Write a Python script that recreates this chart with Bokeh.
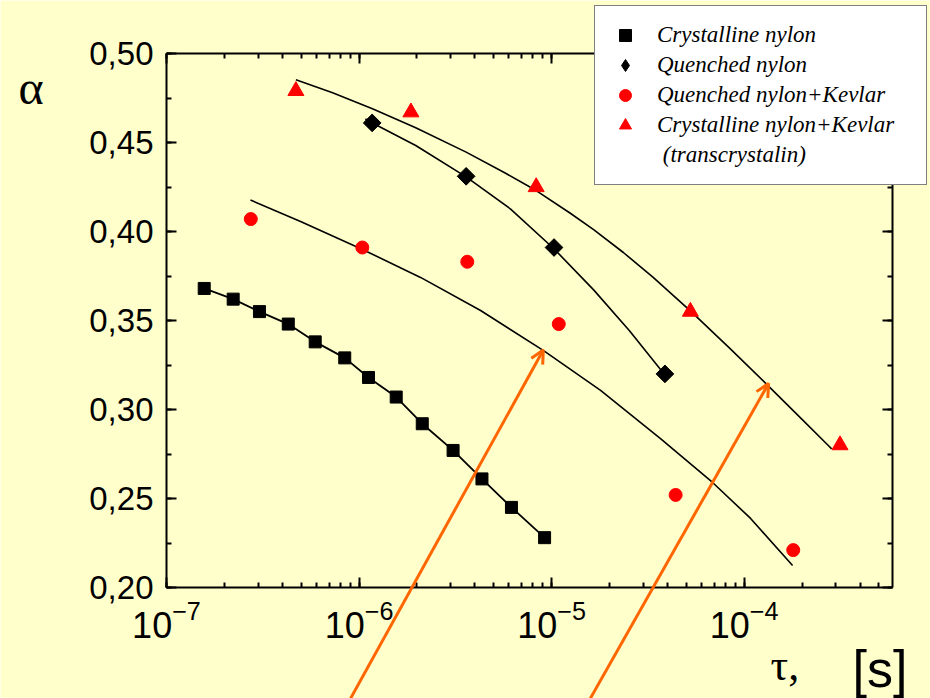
import numpy as np
from bokeh.plotting import figure
from bokeh.models import (Range1d, LinearAxis, LogAxis, LogTicker, SingleIntervalTicker,
                          CustomJSTickFormatter, Legend, LegendItem, Label, Arrow, OpenHead,
                          ColumnDataSource, CDSView, IndexFilter)
from bokeh.embed import file_html
from bokeh.resources import INLINE

# ---------------- data ----------------
cryst_tau = [1.57e-7, 2.22e-7, 3.04e-7, 4.29e-7, 5.92e-7, 8.43e-7, 1.12e-6,
             1.56e-6, 2.13e-6, 3.08e-6, 4.35e-6, 6.19e-6, 9.2e-6]
cryst_alpha = [0.368, 0.362, 0.355, 0.348, 0.338, 0.329, 0.318,
               0.307, 0.292, 0.277, 0.261, 0.245, 0.228]

quench_tau = [1.17e-6, 3.6e-6, 1.03e-5, 3.88e-5]
quench_alpha = [0.461, 0.431, 0.391, 0.320]

qkev_tau = [2.74e-7, 1.04e-6, 3.65e-6, 1.09e-5, 4.41e-5, 1.8e-4]
qkev_alpha = [0.407, 0.391, 0.383, 0.348, 0.252, 0.221]

ckev_tau = [4.7e-7, 1.86e-6, 8.32e-6, 5.26e-5, 3.15e-4]
ckev_alpha = [0.479, 0.467, 0.425, 0.355, 0.280]

# fitted curves
fit_ckev_tau = [4.70e-7, 7.29e-7, 1.174e-6, 1.97e-6, 3.60e-6, 5.71e-6, 8.32e-6, 1.246e-5,
                1.654e-5, 2.36e-5, 3.36e-5, 5.26e-5, 8.46e-5, 1.295e-4, 1.982e-4, 2.73e-4, 2.85e-4]
fit_ckev_alpha = [0.4853, 0.4779, 0.4690, 0.4583, 0.4446, 0.4330, 0.4230, 0.4104,
                  0.4010, 0.3882, 0.3744, 0.3554, 0.3342, 0.3147, 0.2949, 0.2799, 0.2779]

fit_quench_tau = [1.078e-6, 1.174e-6, 1.97e-6, 3.60e-6, 6.13e-6, 1.029e-5, 1.654e-5, 2.533e-5, 3.88e-5]
fit_quench_alpha = [0.4633, 0.4610, 0.4483, 0.4307, 0.4126, 0.3903, 0.3672, 0.3444, 0.3194]

fit_qkev_tau = [2.73e-7, 4.97e-7, 1.043e-6, 2.087e-6, 4.28e-6, 9.09e-6, 1.797e-5,
                3.68e-5, 6.86e-5, 1.081e-4, 1.786e-4]
fit_qkev_alpha = [0.4177, 0.4056, 0.3899, 0.3742, 0.3556, 0.3331, 0.3107,
                  0.2837, 0.2590, 0.2388, 0.2124]

# orange arrows: start (at the bottom edge of the picture) -> tip
arrow_tau_start = [9.04e-7, 1.59e-5]
arrow_alpha_start = [0.1377, 0.1377]
arrow_tau_end = [9.06e-6, 1.34e-4]
arrow_alpha_end = [0.3334, 0.3146]

legend_labels = ["Crystalline nylon", "Quenched nylon", "Quenched nylon+Kevlar",
                 "Crystalline nylon+Kevlar", " (transcrystalin)"]

# ---------------- layout constants ----------------
W, H = 930, 698
AX_LEFT, AX_RIGHT, AX_TOP, AX_BOTTOM = 166, 892, 53, 587   # pixel box of the axes frame
X_MIN, X_MAX = 1e-7, 5.9e-4
Y_MIN, Y_MAX = 0.20, 0.50

# whole canvas is the data frame; axes are drawn at fixed locations
dec_px = (AX_RIGHT - AX_LEFT) / (np.log10(X_MAX) - np.log10(X_MIN))
y_px = (AX_BOTTOM - AX_TOP) / (Y_MAX - Y_MIN)
xr = Range1d(10 ** (np.log10(X_MIN) - AX_LEFT / dec_px),
             10 ** (np.log10(X_MAX) + (W - AX_RIGHT) / dec_px))
yr = Range1d(Y_MIN - (H - AX_BOTTOM) / y_px, Y_MAX + AX_TOP / y_px)

BG = "#FFFFCC"
RED = "#FF0000"
ORANGE = "#FF6600"

p = figure(width=W, height=H, x_axis_type="log", x_range=xr, y_range=yr,
           output_backend="svg", toolbar_location=None,
           min_border_left=0, min_border_right=0, min_border_top=0, min_border_bottom=0)
p.background_fill_color = BG
p.border_fill_color = BG
p.outline_line_color = None
p.xgrid.visible = False
p.ygrid.visible = False

def style_axis(ax, show_labels):
    ax.axis_line_width = 2
    ax.axis_line_color = "black"
    ax.major_tick_in = 10
    ax.major_tick_out = 0
    ax.minor_tick_in = 5
    ax.minor_tick_out = 0
    ax.major_tick_line_width = 2
    ax.minor_tick_line_width = 2
    ax.major_tick_line_color = "black"
    ax.minor_tick_line_color = "black"
    if not show_labels:
        ax.major_label_text_font_size = "0px"
        ax.major_label_text_alpha = 0

yfmt = CustomJSTickFormatter(code="return tick.toFixed(2).replace('.', ',');")

# bottom axis
xax = p.xaxis[0]
xax.ticker = LogTicker(num_minor_ticks=10)
xax.bounds = (X_MIN, X_MAX)
xax.fixed_location = Y_MIN
style_axis(xax, True)
xax.major_label_text_font = "Liberation Sans"
xax.major_label_text_font_size = "36px"
xax.major_label_text_color = "black"
xax.major_label_standoff = 12

# left axis
yax = p.yaxis[0]
yax.ticker = SingleIntervalTicker(interval=0.05, num_minor_ticks=2)
yax.formatter = yfmt
yax.bounds = (Y_MIN, Y_MAX)
yax.fixed_location = X_MIN
style_axis(yax, True)
yax.major_label_text_font = "Liberation Sans"
yax.major_label_text_font_size = "33px"
yax.major_label_text_color = "black"
yax.major_label_standoff = 13

# mirrored axes (frame)
top = LogAxis(ticker=LogTicker(num_minor_ticks=10), bounds=(X_MIN, X_MAX), fixed_location=Y_MAX)
style_axis(top, False)
p.add_layout(top, "above")
right = LinearAxis(ticker=SingleIntervalTicker(interval=0.05, num_minor_ticks=2),
                   bounds=(Y_MIN, Y_MAX), fixed_location=X_MAX)
style_axis(right, False)
p.add_layout(right, "right")

# fitted curves
p.line(fit_ckev_tau, fit_ckev_alpha, line_color="black", line_width=1.6)
p.line(fit_quench_tau, fit_quench_alpha, line_color="black", line_width=1.6)
p.line(fit_qkev_tau, fit_qkev_alpha, line_color="black", line_width=1.6)
p.line(cryst_tau, cryst_alpha, line_color="black", line_width=1.8)

# markers
r_sq = p.scatter(cryst_tau, cryst_alpha, marker="square", size=12, color="black")
# diamond glyph (used by the legend), covered exactly by the wider rotated squares
r_di_leg = p.scatter(quench_tau, quench_alpha, marker="diamond", size=16, color="black")
r_di = p.scatter(quench_tau, quench_alpha, marker="square", size=12.5, angle=np.pi / 4, color="black")
r_ci = p.scatter(qkev_tau, qkev_alpha, marker="circle", size=13, color=RED)
r_tr = p.scatter(ckev_tau, ckev_alpha, marker="triangle", size=16, color=RED)

# invisible glyph for the legend's continuation line
qsrc = ColumnDataSource(dict(x=quench_tau, y=quench_alpha))
r_blank = p.scatter("x", "y", source=qsrc, view=CDSView(filter=IndexFilter(indices=[])),
                    marker="circle", size=1, fill_alpha=0, line_alpha=0)

# arrows
for xs, ys, xe, ye in zip(arrow_tau_start, arrow_alpha_start, arrow_tau_end, arrow_alpha_end):
    p.add_layout(Arrow(x_start=xs, y_start=ys, x_end=xe, y_end=ye,
                       line_color=ORANGE, line_width=3,
                       end=OpenHead(size=13, line_color=ORANGE, line_width=3)))

legend = Legend(items=[LegendItem(label=legend_labels[0], renderers=[r_sq]),
                       LegendItem(label=legend_labels[1], renderers=[r_di_leg]),
                       LegendItem(label=legend_labels[2], renderers=[r_ci]),
                       LegendItem(label=legend_labels[3], renderers=[r_tr]),
                       LegendItem(label=legend_labels[4], renderers=[r_blank])],
                location=(594, H - 185), margin=0, padding=14, spacing=0,
                glyph_width=32, glyph_height=30, label_height=30, label_width=255,
                label_standoff=16, label_text_font="Liberation Serif",
                label_text_font_style="italic", label_text_font_size="23px",
                label_text_color="black",
                border_line_color="black", border_line_width=1,
                background_fill_color="white", background_fill_alpha=1.0)
p.add_layout(legend)

# axis titles (screen units, measured from the bottom-left corner)
p.add_layout(Label(x=18, y=H - 87, x_units="screen", y_units="screen", text="α",
                   text_font="Liberation Serif", text_font_size="48px", text_color="black",
                   text_baseline="alphabetic", text_align="left"))
p.add_layout(Label(x=770, y=H - 665, x_units="screen", y_units="screen", text="τ,",
                   text_font="Liberation Serif", text_font_size="44px", text_color="black",
                   text_baseline="alphabetic", text_align="left"))
p.add_layout(Label(x=852, y=H - 668, x_units="screen", y_units="screen", text="[s]",
                   text_font="Liberation Sans", text_font_size="52px", text_color="black",
                   text_baseline="alphabetic", text_align="left"))

open("out.html", "w").write(file_html(p, INLINE))
